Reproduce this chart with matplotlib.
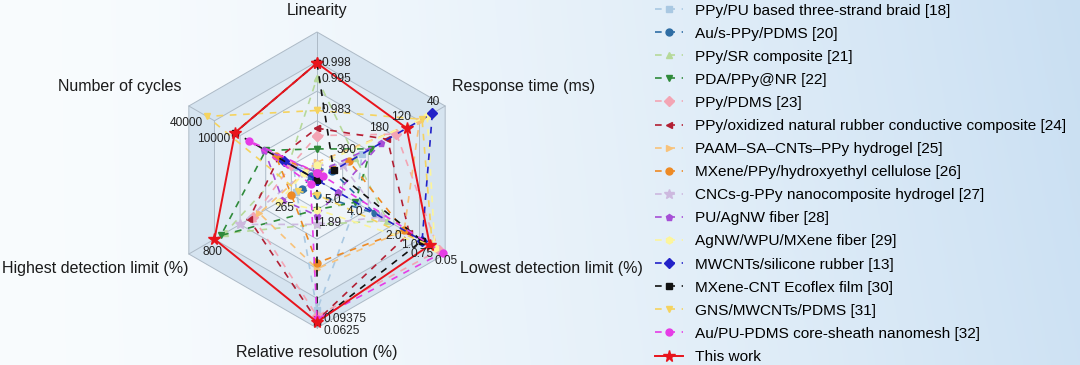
import numpy as np
import matplotlib.pyplot as plt
from matplotlib.patches import Polygon

plt.rcParams['font.family'] = ['Liberation Sans', 'DejaVu Sans']

# radar axes, clockwise from the top
axis_names = ['Linearity', 'Response time (ms)', 'Lowest detection limit (%)',
              'Relative resolution (%)', 'Highest detection limit (%)', 'Number of cycles']
axis_angles = np.deg2rad([90, 30, -30, -90, -150, 150])

names = ['PPy/PU based three-strand braid [18]',
         'Au/s-PPy/PDMS [20]',
         'PPy/SR composite [21]',
         'PDA/PPy@NR [22]',
         'PPy/PDMS [23]',
         'PPy/oxidized natural rubber conductive composite [24]',
         'PAAM\u2013SA\u2013CNTs\u2013PPy hydrogel [25]',
         'MXene/PPy/hydroxyethyl cellulose [26]',
         'CNCs-g-PPy nanocomposite hydrogel [27]',
         'PU/AgNW fiber [28]',
         'AgNW/WPU/MXene fiber [29]',
         'MWCNTs/silicone rubber [13]',
         'MXene-CNT Ecoflex film [30]',
         'GNS/MWCNTs/PDMS [31]',
         'Au/PU-PDMS core-sheath nanomesh [32]',
         'This work']

# normalised radial score on each axis (0 = centre, 1 = outer frame)
s18 = [0.06, 0.35, 0.31, 0.88, 0.16, 0.18]
s20 = [0.08, 0.12, 0.45, 0.10, 0.12, 0.05]
s21 = [0.69, 0.30, 0.55, 0.30, 0.72, 0.22]
s22 = [0.21, 0.42, 0.30, 0.20, 0.75, 0.40]
s23 = [0.30, 0.62, 0.95, 0.92, 0.50, 0.20]
s24 = [0.35, 0.55, 0.72, 0.95, 0.53, 0.30]
s25 = [0.12, 0.80, 0.68, 0.60, 0.45, 0.10]
s26 = [0.05, 0.25, 0.68, 0.56, 0.20, 0.32]
s27 = [0.10, 0.20, 0.50, 0.30, 0.60, 0.10]
s28 = [0.05, 0.50, 0.16, 0.24, 0.27, 0.41]
s29 = [0.10, 0.86, 0.92, 0.20, 0.30, 0.10]
s13 = [0.00, 0.90, 0.82, 0.00, 0.00, 0.26]
s30 = [0.79, 0.13, 0.82, 0.96, 0.00, 0.64]
s31 = [0.47, 0.82, 0.90, 0.10, 0.15, 0.86]
s32 = [0.05, 0.05, 0.98, 0.94, 0.05, 0.53]
s_this = [0.79, 0.70, 0.88, 0.96, 0.80, 0.64]
scores = [s18, s20, s21, s22, s23, s24, s25, s26, s27, s28, s29, s13, s30, s31, s32, s_this]

colors = ['#a9c8e2', '#2e6da4', '#b6d99a', '#2f8a3a', '#f3a5b4', '#b21f33', '#f8c27a', '#ee8a24',
          '#cdb9df', '#a64fd6', '#fcf59c', '#2222c8', '#111111', '#f5d35f', '#e63ce6', '#e8141c']
markers = ['s', 'o', '^', 'v', 'D', '<', '>', 'o', '*', 'p', 'h', 'D', 's', 'v', 'o', '*']

# values written next to the points
tick_axis = [0, 0, 0, 1, 1, 1, 1, 2, 2, 2, 2, 2, 2, 3, 3, 3, 4, 4, 5, 5]
tick_score = [0.79, 0.69, 0.47, 0.90, 0.70, 0.55, 0.25, 0.16, 0.31, 0.68, 0.82, 0.88, 0.98,
              0.94, 0.96, 0.24, 0.80, 0.27, 0.86, 0.64]
tick_text = ['0.998', '0.995', '0.983', '40', '120', '180', '300', '5.0', '4.0', '2.0', '1.0',
             '0.75', '0.05', '0.09375', '0.0625', '1.89', '800', '265', '40000', '10000']
# placement of those texts relative to their point (pixels)
tick_offset = [(5, 0), (5, -1), (4, 0), (1, 11), (-6, 11), (-9, 11), (-3, 11), (-5, -8),
               (-2, -9), (-10, -6), (-13, -4), (-8, -9), (3, -8), (6, 0), (6, -9), (13, -7),
               (-2, -13), (2, -8), (-4, -7), (-5, -6)]
tick_ha = ['left', 'left', 'left', 'center', 'center', 'center', 'center', 'center', 'center',
           'center', 'center', 'center', 'center', 'left', 'left', 'center', 'center', 'center',
           'right', 'right']

W, H = 1080, 365
fig = plt.figure(figsize=(W / 100, H / 100), dpi=100)

# soft white -> light blue background
bg = fig.add_axes([0, 0, 1, 1], zorder=-10)
X, Y = np.meshgrid(np.linspace(0, 1, 400), np.linspace(0, 1, 60))
t = np.clip(X ** 1.5 * (0.9 + 0.1 * Y), 0, 1)
c_left = np.array([0.975, 0.988, 0.996])
c_right = np.array([0.79, 0.875, 0.95])
bg.imshow(c_left + (c_right - c_left) * t[..., None], aspect='auto', extent=[0, 1, 0, 1],
          origin='lower')
bg.axis('off')

# radar axes placed so the frame centre is at (317, 180) px with radius 148 px
cx, cy, R, lim = 317, 180, 148, 1.2
ax = fig.add_axes([(cx - lim * R) / W, (H - cy - lim * R) / H, 2 * lim * R / W, 2 * lim * R / H])
ax.set_xlim(-lim, lim)
ax.set_ylim(-lim, lim)
ax.axis('off')

hx, hy = np.cos(axis_angles), np.sin(axis_angles)
levels = [1.0, 0.8, 0.6, 0.4, 0.2]
fills = ['#d6e4f0', '#e0ebf4', '#e8f0f7', '#eef4f9', '#f5f9fc']
grid_c = '#adbac6'
for lev, fc in zip(levels, fills):
    ax.add_patch(Polygon(np.c_[lev * hx, lev * hy], closed=True, fc=fc, ec=grid_c, lw=0.7,
                         zorder=1))
for i, a in enumerate(axis_angles):
    r0 = 0 if i in (0, 2, 4) else 0.8
    ax.plot([r0 * np.cos(a), np.cos(a)], [r0 * np.sin(a), np.sin(a)], color=grid_c, lw=0.7,
            zorder=1)

a_closed = np.r_[axis_angles, axis_angles[0]]
handles = []
for k, (sc, col, mk, nm) in enumerate(zip(scores, colors, markers, names)):
    r = np.r_[sc, sc[0]]
    if nm == 'This work':
        h, = ax.plot(r * np.cos(a_closed), r * np.sin(a_closed), color=col, lw=1.4, ls='-',
                     marker=mk, ms=8.5, zorder=10, label=nm)
    else:
        h, = ax.plot(r * np.cos(a_closed), r * np.sin(a_closed), color=col, lw=1.2,
                     ls=(0, (4, 4)), marker=mk, ms=5 if mk != '*' else 7, zorder=3 + k * 0.1,
                     label=nm)
    handles.append(h)

for ai, s, txt, off, ha in zip(tick_axis, tick_score, tick_text, tick_offset, tick_ha):
    a = axis_angles[ai]
    ax.annotate(txt, (s * np.cos(a), s * np.sin(a)), xytext=off, textcoords='offset pixels',
                ha=ha, va='center', fontsize=8.6, color='#222222', zorder=12)

# axis titles
title_pos = [(317, 11, 'center'), (452, 87, 'left'), (460, 268, 'left'),
             (317, 352, 'center'), (2, 268, 'left'), (120, 87, 'center')]
for (px, py, ha), nm in zip(title_pos, axis_names):
    fig.text(px / W, 1 - py / H, nm, ha=ha, va='center', fontsize=11.5, color='#1a1a1a')

fig.legend(handles=handles, loc='upper left', bbox_to_anchor=(655 / W, 1 - 3.5 / H),
           frameon=False, fontsize=11.1, handlelength=1.8, handletextpad=0.8,
           labelspacing=0.59, borderpad=0, borderaxespad=0)

fig.savefig('out.png', dpi=100)
